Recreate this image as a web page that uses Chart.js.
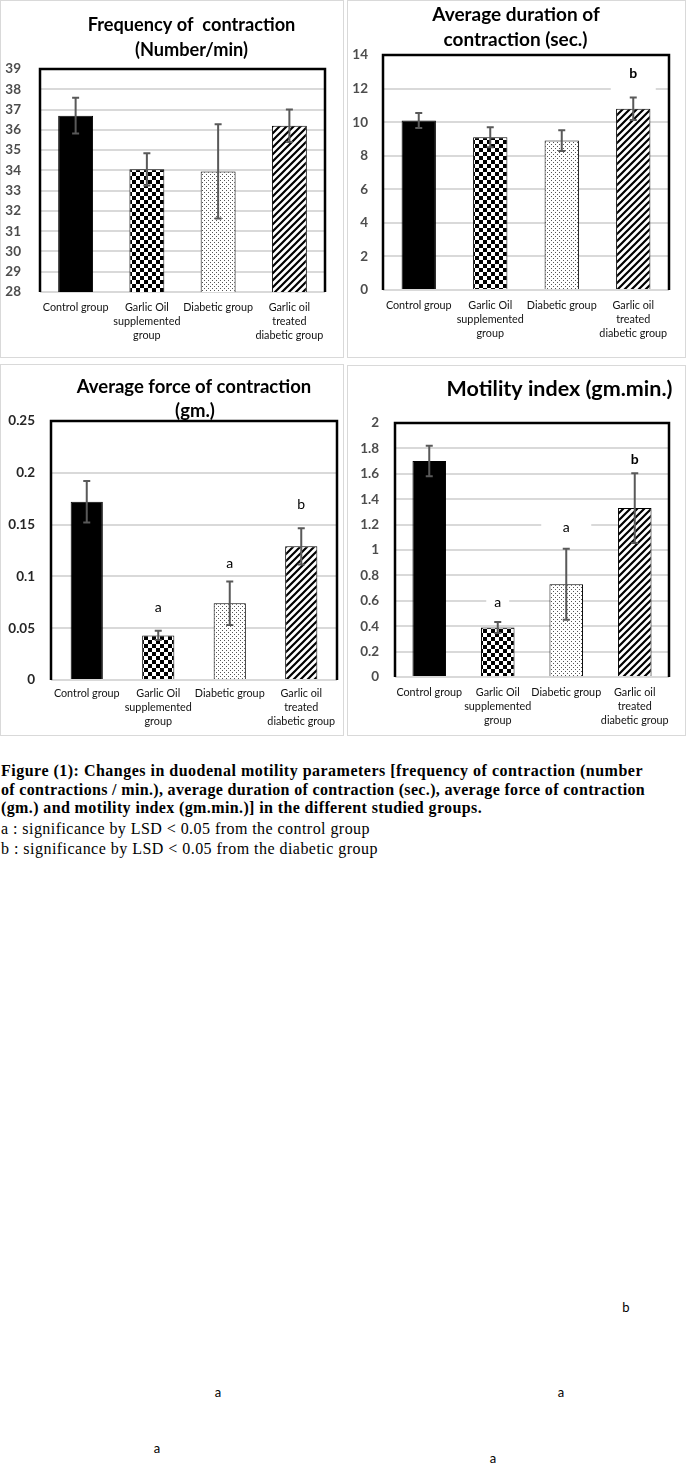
<!DOCTYPE html>
<html><head><meta charset="utf-8">
<script src="https://cdn.jsdelivr.net/npm/chart.js@4.4.1/dist/chart.umd.min.js"></script>
<style>
html,body{margin:0;padding:0;background:#fff;}
body{width:688px;height:1476px;position:relative;overflow:hidden;}
.frame{position:absolute;box-sizing:border-box;border:1px solid #d9d9d9;}
canvas{position:absolute;}
.cap{position:absolute;left:1px;white-space:nowrap;font-family:"Liberation Serif","Times New Roman",serif;font-size:16px;line-height:18px;color:#000;}
.bd{font-weight:bold;}
.stray{position:absolute;font-family:Lato,sans-serif;font-size:13px;line-height:16px;color:#000;transform:translate(-50%,-50%);}
</style></head><body>
<div class="frame" style="left:0;top:0;width:344px;height:358px"></div>
<div class="frame" style="left:347px;top:0;width:339px;height:358px"></div>
<div class="frame" style="left:0;top:364px;width:344px;height:372px"></div>
<div class="frame" style="left:347px;top:365px;width:339px;height:371px"></div>
<canvas id="c1" width="344" height="358" style="left:0;top:0"></canvas>
<canvas id="c2" width="339" height="358" style="left:347px;top:0"></canvas>
<canvas id="c3" width="344" height="372" style="left:0;top:364px"></canvas>
<canvas id="c4" width="339" height="371" style="left:347px;top:365px"></canvas>

<div class="cap bd" style="top:762px" data-w="642">Figure (1): Changes in duodenal motility parameters [frequency of contraction (number</div>
<div class="cap bd" style="top:781px" data-w="644">of contractions / min.), average duration of contraction (sec.), average force of contraction</div>
<div class="cap bd" style="top:799px" data-w="481">(gm.) and motility index (gm.min.)] in the different studied groups.</div>
<div class="cap" style="top:820px" data-w="369">a : significance by LSD &lt; 0.05 from the control group</div>
<div class="cap" style="top:840px" data-w="377">b : significance by LSD &lt; 0.05 from the diabetic group</div>

<div class="stray" style="left:626px;top:1307px">b</div>
<div class="stray" style="left:218px;top:1392px">a</div>
<div class="stray" style="left:561px;top:1392px">a</div>
<div class="stray" style="left:157px;top:1448px">a</div>
<div class="stray" style="left:493px;top:1458px">a</div>

<script>
// ---------- DATA ----------
const categories = ["Control group", "Garlic Oil supplemented group", "Diabetic group", "Garlic oil treated diabetic group"];
const categoryLines = [["Control group"], ["Garlic Oil", "supplemented", "group"], ["Diabetic group"], ["Garlic oil", "treated", "diabetic group"]];

const frequency = [36.7, 34.05, 33.95, 36.2];
const frequencyErr = [0.88, 0.8, 2.33, 0.8];
const frequencySig = ["", "", "", ""];
const frequencyTicks = ["28","29","30","31","32","33","34","35","36","37","38","39"];

const duration = [10.1, 9.1, 8.9, 10.8];
const durationErr = [0.45, 0.6, 0.62, 0.67];
const durationSig = ["", "", "", "b"];
const durationTicks = ["0","2","4","6","8","10","12","14"];

const force = [0.172, 0.043, 0.074, 0.129];
const forceErr = [0.02, 0.0045, 0.021, 0.0175];
const forceSig = ["", "a", "a", "b"];
const forceTicks = ["0","0.05","0.1","0.15","0.2","0.25"];

const motility = [1.70, 0.39, 0.73, 1.33];
const motilityErr = [0.12, 0.043, 0.28, 0.275];
const motilitySig = ["", "a", "a", "b"];
const motilityTicks = ["0","0.2","0.4","0.6","0.8","1","1.2","1.4","1.6","1.8","2"];

// ---------- STYLE ----------
const FONT = "Lato, 'Open Sans', sans-serif";
function makePattern(kind){
  if(kind === 'solid') return '#000';
  const c = document.createElement('canvas'); const g = c.getContext('2d');
  if(kind === 'check'){
    c.width = c.height = 8; g.fillStyle = '#fff'; g.fillRect(0,0,8,8);
    g.fillStyle = '#000'; g.fillRect(0,0,4,4); g.fillRect(4,4,4,4);
  } else if(kind === 'dots'){
    c.width = c.height = 4; g.fillStyle = '#fff'; g.fillRect(0,0,4,4);
    g.fillStyle = '#555'; g.fillRect(0,0,1,1); g.fillRect(2,2,1,1);
  } else if(kind === 'hatch'){
    const s = 7; c.width = c.height = s; g.fillStyle = '#fff'; g.fillRect(0,0,s,s);
    g.strokeStyle = '#000'; g.lineWidth = 2.2; g.beginPath();
    g.moveTo(-1, s+1); g.lineTo(s+1, -1);
    g.moveTo(-1, 1); g.lineTo(1, -1);
    g.moveTo(s-1, s+1); g.lineTo(s+1, s-1);
    g.stroke();
  }
  return document.getElementById('c1').getContext('2d').createPattern(c, 'repeat');
}
const fills = ['solid','check','dots','hatch'].map(makePattern);

const decor = {
  id: 'decor',
  beforeDatasetsDraw(chart){
    const o = chart.options.plugins.decor, ctx = chart.ctx, meta = chart.getDatasetMeta(0), y = chart.scales.y;
    ctx.save(); ctx.fillStyle = '#fff';
    o.sig.forEach((s,i)=>{
      if(!s || !o.boxW[i]) return;
      const cx = meta.data[i].x, cy = y.getPixelForValue(o.vals[i] + o.errs[i]) - o.off[i];
      ctx.fillRect(cx - o.boxW[i]/2, cy - o.boxH[i]/2, o.boxW[i], o.boxH[i]);
    });
    ctx.restore();
  },
  afterDatasetsDraw(chart){
    const o = chart.options.plugins.decor, ctx = chart.ctx, meta = chart.getDatasetMeta(0), y = chart.scales.y;
    ctx.save(); ctx.strokeStyle = '#595959'; ctx.lineWidth = 2;
    o.vals.forEach((v,i)=>{
      const cx = meta.data[i].x, t = y.getPixelForValue(v + o.errs[i]), b = y.getPixelForValue(v - o.errs[i]);
      ctx.beginPath();
      ctx.moveTo(cx, t); ctx.lineTo(cx, b);
      ctx.moveTo(cx-3.5, t); ctx.lineTo(cx+3.5, t);
      ctx.moveTo(cx-3.5, b); ctx.lineTo(cx+3.5, b);
      ctx.stroke();
    });
    ctx.fillStyle = '#000'; ctx.textAlign = 'center'; ctx.textBaseline = 'middle';
    o.sig.forEach((s,i)=>{
      if(!s) return;
      ctx.font = (o.sigBold[i] ? 'bold ' : '') + '14px ' + FONT;
      const cx = meta.data[i].x, cy = y.getPixelForValue(o.vals[i] + o.errs[i]) - o.off[i];
      ctx.fillText(s, cx, cy);
    });
    ctx.restore();
  },
  afterDraw(chart){
    const o = chart.options.plugins.decor, ctx = chart.ctx, a = chart.chartArea;
    ctx.save(); ctx.strokeStyle = '#000'; ctx.lineWidth = 2.5;
    ctx.beginPath();
    ctx.moveTo(a.left, a.bottom); ctx.lineTo(a.left, a.top); ctx.lineTo(a.right, a.top); ctx.lineTo(a.right, a.bottom);
    ctx.stroke();
    ctx.fillStyle = '#000'; ctx.textAlign = 'center'; ctx.textBaseline = 'middle';
    ctx.font = 'bold ' + o.titleSize + 'px ' + FONT;
    o.title.forEach((t,i)=> ctx.fillText(t, o.titlePos[i][0], o.titlePos[i][1]));
    ctx.restore();
  }
};

function build(id, cfg){
  const cv = document.getElementById(id);
  const W = cv.width, H = cv.height;
  new Chart(cv, {
    type: 'bar',
    data: { labels: categoryLines, datasets: [{
      label: cfg.name, data: cfg.vals, backgroundColor: fills, borderColor: '#000', borderWidth: 1,
      barPercentage: cfg.bp, categoryPercentage: 1 }] },
    plugins: [decor],
    options: {
      responsive: false, animation: false, events: [],
      layout: { padding: { top: cfg.T, right: W - cfg.R, bottom: 0, left: 0 } },
      plugins: { legend: { display: false }, tooltip: { enabled: false },
        decor: { vals: cfg.vals, errs: cfg.errs, sig: cfg.sig, sigBold: cfg.sigBold, off: cfg.off,
                 boxW: cfg.boxW, boxH: cfg.boxH, title: cfg.title, titlePos: cfg.titlePos, titleSize: cfg.titleSize } },
      scales: {
        x: { grid: { display: false }, border: { display: false },
             ticks: { color: '#111', font: { family: FONT, size: 10.8, lineHeight: 1.3 }, padding: cfg.xpad, maxRotation: 0, autoSkip: false },
             afterFit: s => { s.height = H - cfg.B; } },
        y: { min: cfg.min, max: cfg.max,
             grid: { color: '#d9d9d9', lineWidth: 2, drawTicks: false }, border: { display: false },
             ticks: { stepSize: cfg.step, color: cfg.tickColor, padding: cfg.tpad, font: { family: FONT, size: 13.5, weight: 'bold' },
                      callback: (v, i) => cfg.ticks[i] },
             afterFit: s => { s.width = cfg.L; } }
      }
    }
  });
}

build('c1', { name: 'Frequency of contraction', vals: frequency, errs: frequencyErr, sig: frequencySig, sigBold: [0,0,0,0],
  off: [0,0,0,0], boxW: [0,0,0,0], boxH: [0,0,0,0], ticks: frequencyTicks, min: 28, max: 39, step: 1,
  L: 40, R: 325, T: 69, B: 292, bp: 0.49, tpad: 19, xpad: 0, tickColor: '#4d4d4d',
  title: ['Frequency of  contraction', '(Number/min)'], titlePos: [[191.5, 25], [191.5, 50]], titleSize: 18.2 });

build('c2', { name: 'Average duration of contraction', vals: duration, errs: durationErr, sig: durationSig, sigBold: [0,0,0,1],
  off: [0,0,0,24], boxW: [0,0,0,45], boxH: [0,0,0,36], ticks: durationTicks, min: 0, max: 14, step: 2,
  L: 36, R: 322, T: 55, B: 290, bp: 0.48, tpad: 15, xpad: 0, tickColor: '#4d4d4d',
  title: ['Average duration of', 'contraction (sec.)'], titlePos: [[169, 15], [168.5, 40]], titleSize: 19 });

build('c3', { name: 'Average force of contraction', vals: force, errs: forceErr, sig: forceSig, sigBold: [0,0,0,0],
  off: [0,23,18,24], boxW: [0,0,0,0], boxH: [0,0,0,0], ticks: forceTicks, min: 0, max: 0.25, step: 0.05,
  L: 51, R: 337, T: 57, B: 316, bp: 0.45, tpad: 16, xpad: -2, tickColor: '#262626',
  title: ['Average force of contraction', '(gm.)'], titlePos: [[194, 23], [195, 47.5]], titleSize: 18.5 });

build('c4', { name: 'Motility index', vals: motility, errs: motilityErr, sig: motilitySig, sigBold: [0,0,0,1],
  off: [0,20,21,14], boxW: [0,23,50,0], boxH: [0,16,20,0], ticks: motilityTicks, min: 0, max: 2, step: 0.2,
  L: 48, R: 322, T: 58, B: 312, bp: 0.49, tpad: 16, xpad: 0, tickColor: '#4d4d4d',
  title: ['Motility index (gm.min.)'], titlePos: [[212.5, 24]], titleSize: 21.5 });

// fit caption lines to the reference line widths
document.querySelectorAll('.cap').forEach(el => {
  const target = +el.dataset.w;
  const w = el.getBoundingClientRect().width;
  const n = el.textContent.length;
  el.style.letterSpacing = ((target - w) / n).toFixed(3) + 'px';
});
</script>
</body></html>
